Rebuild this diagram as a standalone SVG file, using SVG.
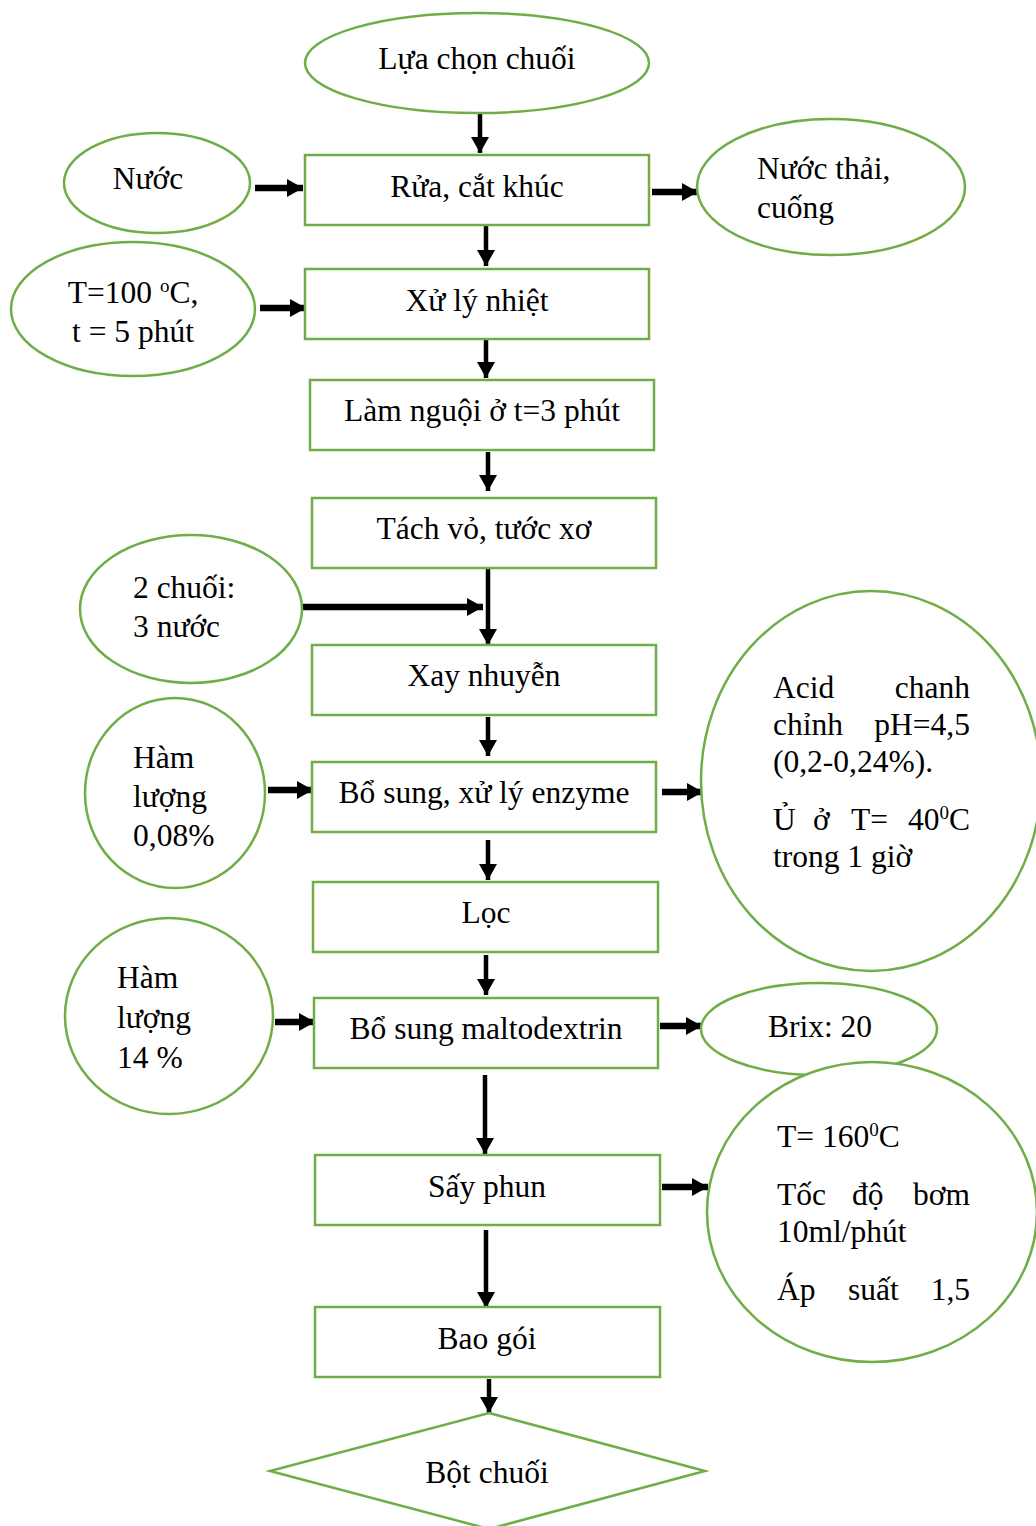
<svg xmlns="http://www.w3.org/2000/svg" width="1036" height="1526" viewBox="0 0 1036 1526">
  <style>
    .shape { fill: #ffffff; stroke: #70ad47; stroke-width: 2.5; }
    .t { font-family: "Liberation Serif", "Times New Roman", serif; font-size: 31.5px; fill: #000000; }
    .c { text-anchor: middle; }
    .e { text-anchor: end; }
    .v { stroke: #000000; stroke-width: 4.5; fill: none; marker-end: url(#headV); }
    .h { stroke: #000000; stroke-width: 6.5; fill: none; marker-end: url(#headH); }
    .sup { font-size: 19px; }
  </style>
  <defs>
    <marker id="headV" markerUnits="userSpaceOnUse" markerWidth="17" markerHeight="20" refX="16" refY="9" orient="auto">
      <path d="M0,0 L16,9 L0,18 Z" fill="#000000"/>
    </marker>
    <marker id="headH" markerUnits="userSpaceOnUse" markerWidth="17" markerHeight="20" refX="16" refY="9" orient="auto">
      <path d="M0,0 L16,9 L0,18 Z" fill="#000000"/>
    </marker>
  </defs>

  <!-- connectors -->
  <g id="connectors">
    <line class="v" x1="480" y1="113" x2="480" y2="153"/>
    <line class="h" x1="255" y1="188" x2="303" y2="188"/>
    <line class="h" x1="652" y1="192" x2="698" y2="192"/>
    <line class="v" x1="486" y1="226" x2="486" y2="266"/>
    <line class="h" x1="260" y1="308" x2="306" y2="308"/>
    <line class="v" x1="486" y1="340" x2="486" y2="378"/>
    <line class="v" x1="488" y1="452" x2="488" y2="491"/>
    <line class="v" x1="488" y1="569" x2="488" y2="645"/>
    <line class="h" x1="303" y1="607" x2="483" y2="607"/>
    <line class="v" x1="488" y1="717" x2="488" y2="756"/>
    <line class="h" x1="268" y1="790" x2="313" y2="790"/>
    <line class="h" x1="662" y1="792" x2="703" y2="792"/>
    <line class="v" x1="488" y1="840" x2="488" y2="880"/>
    <line class="v" x1="486" y1="955" x2="486" y2="995"/>
    <line class="h" x1="275" y1="1022" x2="315" y2="1022"/>
    <line class="h" x1="660" y1="1026" x2="702" y2="1026"/>
    <line class="v" x1="485" y1="1075" x2="485" y2="1154"/>
    <line class="h" x1="662" y1="1187" x2="708" y2="1187"/>
    <line class="v" x1="486" y1="1230" x2="486" y2="1308"/>
    <line class="v" x1="489" y1="1379" x2="489" y2="1413"/>
  </g>

  <g id="n-lua-chon">
    <ellipse class="shape" cx="477" cy="63" rx="172" ry="50"/>
    <text class="t c" x="477" y="69">Lựa chọn chuối</text>
  </g>

  <g id="n-nuoc">
    <ellipse class="shape" cx="157" cy="183" rx="93" ry="50"/>
    <text class="t c" x="148" y="189">Nước</text>
  </g>

  <g id="n-rua">
    <rect class="shape" x="305" y="155" width="344" height="70"/>
    <text class="t c" x="477" y="197">Rửa, cắt khúc</text>
  </g>

  <g id="n-nuoc-thai">
    <ellipse class="shape" cx="831" cy="187" rx="134" ry="68"/>
    <text class="t" x="757" y="179">Nước thải,</text>
    <text class="t" x="757" y="218">cuống</text>
  </g>

  <g id="n-nhiet-do">
    <ellipse class="shape" cx="133" cy="309" rx="122" ry="67"/>
    <text class="t c" x="133" y="303">T=100 <tspan class="sup" dy="-11">o</tspan><tspan dy="11">C,</tspan></text>
    <text class="t c" x="133" y="342">t = 5 phút</text>
  </g>

  <g id="n-xu-ly-nhiet">
    <rect class="shape" x="305" y="269" width="344" height="70"/>
    <text class="t c" x="477" y="311">Xử lý nhiệt</text>
  </g>

  <g id="n-lam-nguoi">
    <rect class="shape" x="310" y="380" width="344" height="70"/>
    <text class="t c" x="482" y="421">Làm nguội ở t=3 phút</text>
  </g>

  <g id="n-tach-vo">
    <rect class="shape" x="312" y="498" width="344" height="70"/>
    <text class="t c" x="484" y="539">Tách vỏ, tước xơ</text>
  </g>

  <g id="n-ti-le">
    <ellipse class="shape" cx="191" cy="609" rx="111" ry="74"/>
    <text class="t" x="133" y="598">2 chuối:</text>
    <text class="t" x="133" y="637">3 nước</text>
  </g>

  <g id="n-xay">
    <rect class="shape" x="312" y="645" width="344" height="70"/>
    <text class="t c" x="484" y="686">Xay nhuyễn</text>
  </g>

  <g id="n-enzyme-ham-luong">
    <ellipse class="shape" cx="175" cy="793" rx="90" ry="95"/>
    <text class="t" x="133" y="768">Hàm</text>
    <text class="t" x="133" y="807">lượng</text>
    <text class="t" x="133" y="846">0,08%</text>
  </g>

  <g id="n-enzyme">
    <rect class="shape" x="312" y="762" width="344" height="70"/>
    <text class="t c" x="484" y="803">Bổ sung, xử lý enzyme</text>
  </g>

  <g id="n-acid">
    <ellipse class="shape" cx="871" cy="781" rx="170" ry="190"/>
    <text class="t" x="773" y="698">Acid</text>
    <text class="t e" x="970" y="698">chanh</text>
    <text class="t" x="773" y="735">chỉnh</text>
    <text class="t e" x="970" y="735">pH=4,5</text>
    <text class="t" x="773" y="772">(0,2-0,24%).</text>
    <text class="t" x="773" y="830">Ủ</text>
    <text class="t" x="813" y="830">ở</text>
    <text class="t" x="851" y="830">T=</text>
    <text class="t e" x="970" y="830">40<tspan class="sup" dy="-11">0</tspan><tspan dy="11">C</tspan></text>
    <text class="t" x="773" y="867">trong 1 giờ</text>
  </g>

  <g id="n-loc">
    <rect class="shape" x="313" y="882" width="345" height="70"/>
    <text class="t c" x="486" y="923">Lọc</text>
  </g>

  <g id="n-malto-ham-luong">
    <ellipse class="shape" cx="169" cy="1016" rx="104" ry="98"/>
    <text class="t" x="117" y="988">Hàm</text>
    <text class="t" x="117" y="1028">lượng</text>
    <text class="t" x="117" y="1068">14 %</text>
  </g>

  <g id="n-malto">
    <rect class="shape" x="314" y="998" width="344" height="70"/>
    <text class="t c" x="486" y="1039">Bổ sung maltodextrin</text>
  </g>

  <g id="n-brix">
    <ellipse class="shape" cx="819" cy="1029" rx="118" ry="46"/>
    <text class="t c" x="820" y="1037">Brix: 20</text>
  </g>

  <g id="n-say-thong-so">
    <ellipse class="shape" cx="872" cy="1212" rx="165" ry="150"/>
    <text class="t" x="777" y="1147">T= 160<tspan class="sup" dy="-11">0</tspan><tspan dy="11">C</tspan></text>
    <text class="t" x="777" y="1205">Tốc</text>
    <text class="t" x="852" y="1205">độ</text>
    <text class="t e" x="970" y="1205">bơm</text>
    <text class="t" x="777" y="1242">10ml/phút</text>
    <text class="t" x="777" y="1300">Áp</text>
    <text class="t" x="848" y="1300">suất</text>
    <text class="t e" x="970" y="1300">1,5</text>
  </g>

  <g id="n-say-phun">
    <rect class="shape" x="315" y="1155" width="345" height="70"/>
    <text class="t c" x="487" y="1197">Sấy phun</text>
  </g>

  <g id="n-bao-goi">
    <rect class="shape" x="315" y="1307" width="345" height="70"/>
    <text class="t c" x="487" y="1349">Bao gói</text>
  </g>

  <g id="n-bot-chuoi">
    <polygon class="shape" points="489,1413 705,1471 489,1529 270,1471"/>
    <text class="t c" x="487" y="1483">Bột chuối</text>
  </g>
</svg>
